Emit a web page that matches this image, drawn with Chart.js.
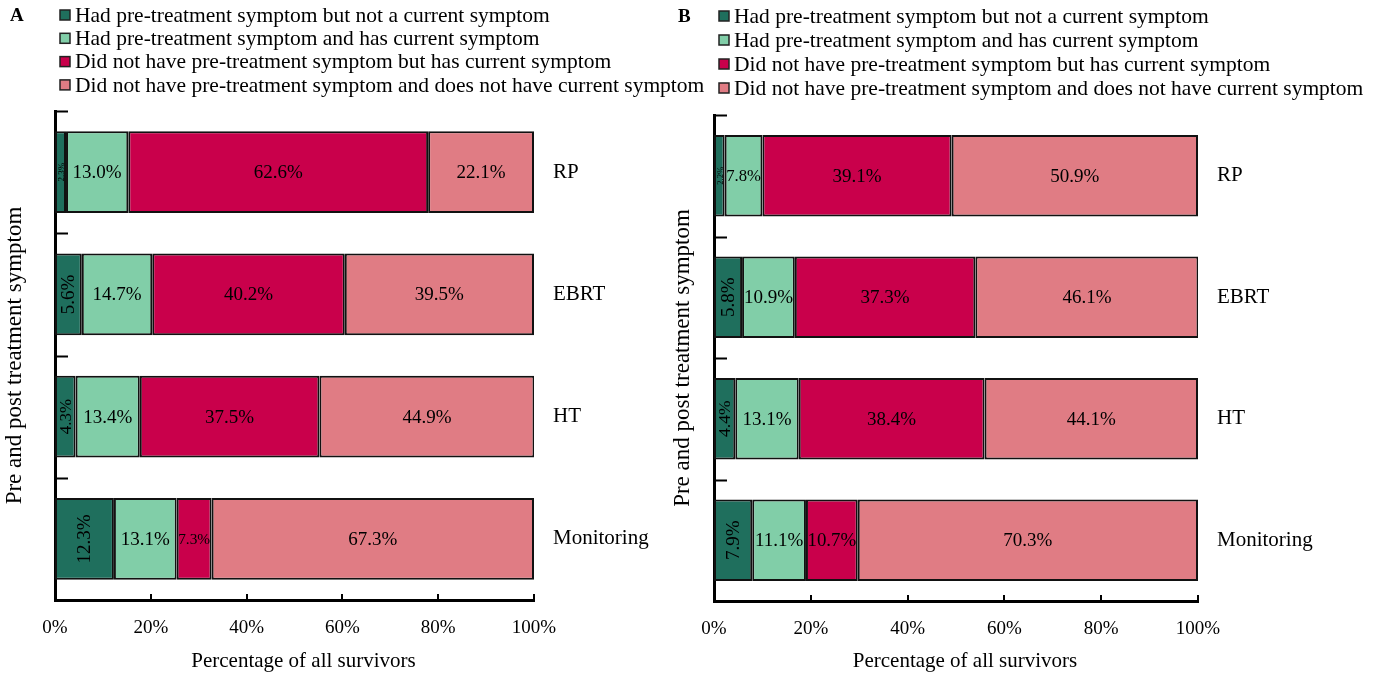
<!DOCTYPE html>
<html>
<head>
<meta charset="utf-8">
<script src="https://cdn.jsdelivr.net/npm/chart.js@4.4.1/dist/chart.umd.min.js"></script>
<style>
  html, body { margin: 0; padding: 0; background: #fff; }
  body { width: 1390px; height: 673px; position: relative; overflow: hidden; }
  .panel { position: absolute; top: 0; height: 673px; }
  #panelA { left: 0; width: 712px; }
  #panelB { left: 668px; width: 722px; }
</style>
</head>
<body>
<div class="panel" id="panelA"><canvas id="chartA"></canvas></div>
<div class="panel" id="panelB"><canvas id="chartB"></canvas></div>
<script>
// Treatment groups and response categories
const categories = ['RP', 'EBRT', 'HT', 'Monitoring'];
const seriesNames = [
  'Had pre-treatment symptom but not a current symptom',
  'Had pre-treatment symptom and has current symptom',
  'Did not have pre-treatment symptom but has current symptom',
  'Did not have pre-treatment symptom and does not have current symptom'
];
const seriesColors = ['#1f6f5d', '#81cea8', '#c9004b', '#e07c84'];
const xTickValues = [0, 20, 40, 60, 80, 100];

// Panel A percentages (per treatment group)
const aHadNotCurrent  = [2.3, 5.6, 4.3, 12.3];
const aHadAndCurrent  = [13.0, 14.7, 13.4, 13.1];
const aNotHadCurrent  = [62.6, 40.2, 37.5, 7.3];
const aNotHadNotCurr  = [22.1, 39.5, 44.9, 67.3];

// Panel B percentages (per treatment group)
const bHadNotCurrent  = [2.2, 5.8, 4.4, 7.9];
const bHadAndCurrent  = [7.8, 10.9, 13.1, 11.1];
const bNotHadCurrent  = [39.1, 37.3, 38.4, 10.7];
const bNotHadNotCurr  = [50.9, 46.1, 44.1, 70.3];

const SERIF = '"Liberation Serif", "Times New Roman", serif';
Chart.defaults.font.family = SERIF;
Chart.defaults.color = '#000';

// Inward tick marks, legend block, panel letter, x title and in-bar labels
const decorPlugin = {
  id: 'decor',
  afterDatasetsDraw(chart, args, opts) {
    const ctx = chart.ctx;
    const area = chart.chartArea;
    const xs = chart.scales.x;
    ctx.save();
    ctx.strokeStyle = '#000';
    ctx.lineWidth = 2;
    // x ticks pointing up into the plot
    xTickValues.forEach(v => {
      const px = Math.round(xs.getPixelForValue(v));
      ctx.beginPath();
      ctx.moveTo(px, area.bottom);
      ctx.lineTo(px, area.bottom - 6);
      ctx.stroke();
    });
    // y ticks at category boundaries pointing right
    const step = (area.bottom - area.top) / categories.length;
    for (let i = 0; i < categories.length; i++) {
      const py = Math.round(area.top + i * step) + 0.5;
      ctx.beginPath();
      ctx.moveTo(area.left, py);
      ctx.lineTo(area.left + 13, py);
      ctx.stroke();
    }

    // in-bar value labels
    chart.data.datasets.forEach((ds, di) => {
      const meta = chart.getDatasetMeta(di);
      meta.data.forEach((bar, i) => {
        const val = ds.data[i];
        const txt = val.toFixed(1) + '%';
        const w = Math.abs(bar.x - bar.base);
        const cx = (bar.x + bar.base) / 2;
        const cy = bar.y;
        ctx.fillStyle = '#000';
        ctx.textAlign = 'center';
        ctx.textBaseline = 'middle';
        if (di === 0) {
          const size = Math.min(opts.labelSize, w * 0.82);
          ctx.font = size + 'px ' + SERIF;
          ctx.save();
          ctx.translate(cx + 1, cy);
          ctx.rotate(-Math.PI / 2);
          ctx.fillText(txt, 0, 0);
          ctx.restore();
        } else {
          let size = opts.labelSize;
          ctx.font = size + 'px ' + SERIF;
          const tw = ctx.measureText(txt).width;
          if (tw > w - 3) {
            size = size * (w - 3) / tw;
            ctx.font = size + 'px ' + SERIF;
          }
          ctx.fillText(txt, cx, cy + 1);
        }
      });
    });

    // x axis title
    ctx.textAlign = 'center';
    ctx.textBaseline = 'middle';
    ctx.font = '21px ' + SERIF;
    ctx.fillText('Percentage of all survivors', (area.left + area.right) / 2 + opts.titleShift, opts.titleY);

    // legend block
    ctx.textAlign = 'left';
    ctx.font = opts.legendSize + 'px ' + SERIF;
    chart.data.datasets.forEach((ds, di) => {
      const y = opts.legendY + di * opts.legendStep;
      ctx.fillStyle = ds.backgroundColor;
      ctx.fillRect(opts.legendX, y - 5, 10, 10);
      ctx.lineWidth = 1.5;
      ctx.strokeStyle = '#222';
      ctx.strokeRect(opts.legendX, y - 5, 10, 10);
      ctx.fillStyle = '#000';
      ctx.fillText(ds.label, opts.legendX + 15, y + 1);
    });

    // panel letter
    ctx.font = 'bold 19px ' + SERIF;
    ctx.fillText(opts.letter, opts.letterX, opts.legendY + 1);
    ctx.restore();
  }
};

function makeChart(canvasId, series, cfg) {
  const datasets = series.map((data, i) => ({
    label: seriesNames[i],
    data: data,
    backgroundColor: seriesColors[i],
    borderColor: '#111',
    borderWidth: 2,
    borderSkipped: false,
    barPercentage: 0.67,
    categoryPercentage: 1.0
  }));
  return new Chart(document.getElementById(canvasId), {
    type: 'bar',
    data: { labels: categories, datasets: datasets },
    plugins: [decorPlugin],
    options: {
      indexAxis: 'y',
      responsive: true,
      maintainAspectRatio: false,
      animation: false,
      layout: { padding: { top: cfg.top, left: 0, right: 0, bottom: 0 } },
      plugins: {
        legend: { display: false },
        tooltip: { enabled: false },
        decor: cfg.decor
      },
      scales: {
        x: {
          type: 'linear',
          stacked: true,
          min: 0,
          max: 100,
          afterBuildTicks: s => { s.ticks = xTickValues.map(v => ({ value: v })); },
          grid: { display: false, drawTicks: false },
          border: { display: true, color: '#000', width: 3 },
          ticks: {
            padding: 17,
            font: { size: 19 },
            color: '#000',
            callback: v => v + '%'
          },
          afterFit: s => { s.height = cfg.xHeight; }
        },
        y: {
          type: 'category',
          stacked: true,
          position: 'left',
          offset: true,
          grid: { display: false, drawTicks: false },
          border: { display: true, color: '#000', width: 3 },
          ticks: { display: false },
          title: {
            display: true,
            text: 'Pre and post treatment symptom',
            font: { size: 23 },
            color: '#000',
            padding: { top: cfg.titlePad, bottom: 0 }
          },
          afterFit: s => { s.width = cfg.yWidth; }
        },
        yLabels: {
          type: 'category',
          labels: categories,
          position: 'right',
          offset: true,
          grid: { display: false, drawTicks: false },
          border: { display: false },
          ticks: { padding: 19, font: { size: 21 }, color: '#000' },
          afterFit: s => { s.width = cfg.rightWidth; }
        }
      }
    }
  });
}

makeChart('chartA',
  [aHadNotCurrent, aHadAndCurrent, aNotHadCurrent, aNotHadNotCurr],
  {
    top: 111, xHeight: 73, yWidth: 55, rightWidth: 178, titlePad: 1,
    decor: { labelSize: 19, legendSize: 21.5, legendX: 60, legendY: 15, legendStep: 23.3,
             letter: 'A', letterX: 10, titleY: 661, titleShift: 9 }
  });

makeChart('chartB',
  [bHadNotCurrent, bHadAndCurrent, bNotHadCurrent, bNotHadNotCurr],
  {
    top: 115, xHeight: 72, yWidth: 46, rightWidth: 192, titlePad: 1,
    decor: { labelSize: 19, legendSize: 21.5, legendX: 51, legendY: 16, legendStep: 24,
             letter: 'B', letterX: 10, titleY: 661, titleShift: 9 }
  });
</script>
</body>
</html>
